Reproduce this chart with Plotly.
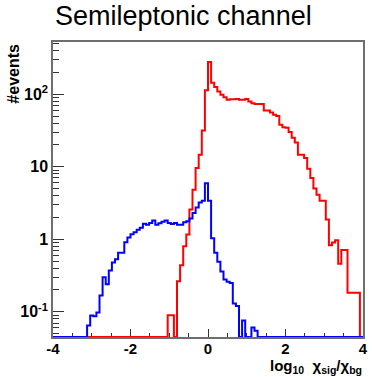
import numpy as np
import plotly.graph_objects as go

# ---------------- data ----------------
x_min, x_max, n_bins = -4.0, 4.0, 100

# red histogram: counts starting at bin index red_first (x = -1.04)
red_first = 37
red_counts = [0.09, 0.09, 0, 0.264, 0.44, 0.8, 1.16, 2.57, 4.8, 9.6, 14.6, 31.6, 113,
              278, 144, 126, 109, 98, 91, 83.5, 85, 85, 86, 83.5, 83.5, 86, 79, 75,
              73, 73, 73, 59.5, 59.5, 56, 52, 50, 38, 35, 34.5, 30, 25, 21.6, 14.6,
              14.6, 13.2, 9.4, 7.0, 5.0, 4.1, 3.4, 3.4, 1.87, 0.83, 0.9, 0.97, 0.46,
              0.71, 0.71, 0.183, 0.183, 0.183, 0.183]

# blue histogram: counts starting at bin index blue_first (x = -3.12)
blue_first = 11
blue_counts = [0.065, 0.089, 0.087, 0.098, 0.168, 0.30, 0.24, 0.37, 0.48, 0.53, 0.65,
               0.65, 0.91, 1.06, 1.17, 1.25, 1.35, 1.44, 1.64, 1.58, 1.68, 1.81, 1.59,
               1.66, 1.75, 1.81, 1.68, 1.62, 1.68, 1.58, 1.58, 1.72, 1.77, 1.94, 2.3,
               2.75, 3.2, 3.4, 5.9, 3.4, 1.03, 0.65, 0.49, 0.36, 0.28, 0.26, 0.25,
               0.13, 0.12, 0, 0.076, 0, 0, 0.061, 0.055]

y_tick_vals = [0.1, 1, 10, 100]
y_tick_text = ["10<sup>-1</sup>", "1", "10", "10<sup>2</sup>"]
x_tick_vals = [-4, -2, 0, 2, 4]
x_tick_text = ["-4", "-2", "0", "2", "4"]

title_text = "Semileptonic channel"
y_title = "#events"
x_title = "log<sub>10</sub>  χ<sub>sig</sub>/χ<sub>bg</sub>"

# ---------------- layout constants ----------------
y_log_min, y_log_max = -1.347, 2.719
W, H = 372, 377
L, R, T, B = 53, 4, 42, 40
pw, ph = W - L - R, H - T - B


def full(first, counts):
    v = np.zeros(n_bins)
    v[first:first + len(counts)] = counts
    return v


edges = np.linspace(x_min, x_max, n_bins + 1)
floor_val = 10 ** (y_log_min)


def step_xy(vals):
    v = np.where(vals > 0, vals, floor_val)
    xs = list(edges)
    ys = list(v) + [v[-1]]
    return xs, ys


fig = go.Figure()
for first, counts, color in [(red_first, red_counts, "#ff0000"),
                             (blue_first, blue_counts, "#0000ff")]:
    xs, ys = step_xy(full(first, counts))
    fig.add_trace(go.Scatter(x=xs, y=ys, mode="lines", line_shape="hv",
                             line=dict(color=color, width=2), hoverinfo="skip",
                             showlegend=False))

# minor tick values for log axis
minor_vals = []
for dec in [0.01, 0.1, 1, 10, 100]:
    for m in range(2, 10):
        v = m * dec
        if y_log_min <= np.log10(v) <= y_log_max:
            minor_vals.append(v)

axis_color = "#6e6e6e"
fig.update_layout(
    width=W, height=H,
    margin=dict(l=L, r=R, t=T, b=B, pad=0),
    paper_bgcolor="white", plot_bgcolor="white",
    xaxis=dict(range=[x_min, x_max], showgrid=False, zeroline=False,
               showline=True, linecolor=axis_color, linewidth=1.5, mirror=True,
               ticks="inside", ticklen=8, tickcolor="#333", tickwidth=1.2,
               tickvals=x_tick_vals, ticktext=x_tick_text, ticklabelstandoff=-3,
               tickfont=dict(family="Liberation Sans", size=15, color="black", weight="bold"),
               minor=dict(ticks="inside", ticklen=4, dtick=0.5, tick0=0,
                          tickcolor="#333", tickwidth=1.2, showgrid=False),
               layer="below traces"),
    yaxis=dict(type="log", range=[y_log_min, y_log_max], showgrid=False, zeroline=False,
               showline=True, linecolor=axis_color, linewidth=1.5, mirror=True,
               ticks="inside", ticklen=11, tickcolor="#333", tickwidth=1.2,
               tickvals=y_tick_vals, ticktext=y_tick_text,
               tickfont=dict(family="Liberation Sans", size=16, color="black", weight="bold"),
               minor=dict(ticks="inside", ticklen=6, tickvals=minor_vals,
                          tickcolor="#333", tickwidth=1.2, showgrid=False),
               layer="below traces"),
)


def px_x(p):
    return (p - L) / pw


def px_y(p):
    return (H - B - p) / ph


fig.add_annotation(text=title_text, xref="paper", yref="paper",
                   x=px_x(185.5), y=px_y(16), xanchor="center", yanchor="middle",
                   showarrow=False,
                   font=dict(family="Liberation Sans", size=27, color="black"))
fig.add_annotation(text=y_title, xref="paper", yref="paper", textangle=-90,
                   x=px_x(12), y=px_y(42), xanchor="center", yanchor="top",
                   showarrow=False,
                   font=dict(family="Liberation Sans", size=16, color="black", weight="bold"))
fig.add_annotation(text=x_title, xref="paper", yref="paper",
                   x=px_x(368), y=px_y(377), xanchor="right", yanchor="bottom",
                   showarrow=False, borderpad=0,
                   font=dict(family="Liberation Sans", size=15, color="black", weight="bold"))

fig.write_html("out.html")
